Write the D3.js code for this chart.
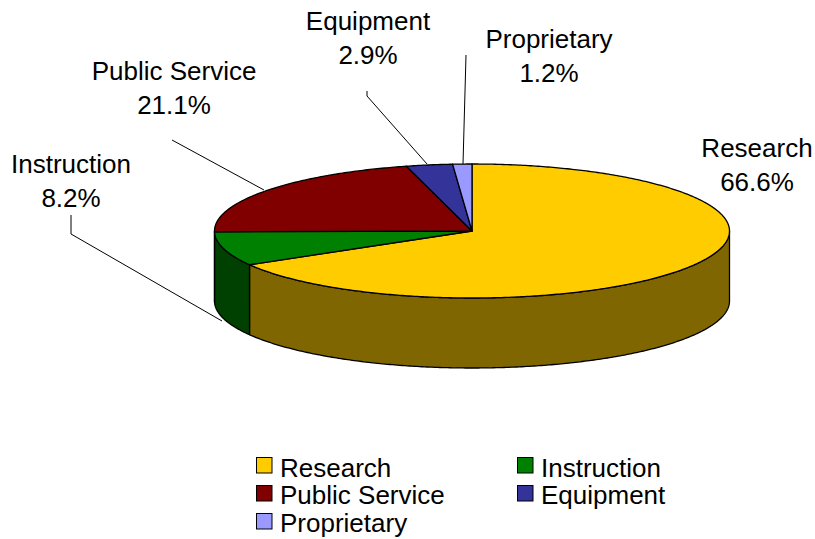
<!DOCTYPE html>
<html>
<head>
<meta charset="utf-8">
<script src="https://cdn.jsdelivr.net/npm/d3@7"></script>
<style>
html,body{margin:0;padding:0;background:#fff}
svg{display:block}
text{font-family:"Liberation Sans",Arial,sans-serif;font-size:26px;fill:#000}
</style>
</head>
<body>
<svg id="c" width="815" height="539"></svg>
<script>
const categories = ["Research","Instruction","Public Service","Equipment","Proprietary"];
const shares = [66.6,8.2,21.1,2.9,1.2];
const topColors = ["#FFCC00","#008000","#800000","#333399","#9999FF"];
const sideColors = ["#806600","#004000","#400000","#1A1A4D","#4D4D80"];

const svg = d3.select("#c");
const cx=472, cy=231, rx=257.5, ry=67, depth=70;
const px = d3.scaleLinear().domain([-1,1]).range([cx-rx,cx+rx]);
const py = d3.scaleLinear().domain([-1,1]).range([cy+ry,cy-ry]);
const pie = d3.pie().sort(null).value(d=>d)(shares);
const line = d3.line().x(d=>d[0]).y(d=>d[1]);
const pt = (a,dy=0)=>[px(Math.sin(a)),py(Math.cos(a))+dy];
const arcPts = (a0,a1,dy=0)=>{
  const n=Math.max(2,Math.ceil(Math.abs(a1-a0)/0.01));
  return d3.range(n+1).map(i=>pt(a0+(a1-a0)*i/n,dy));
};

// leader lines
const leaders = [
  [[71,215],[71,234],[222,321]],
  [[172,140],[264,190]],
  [[367,91],[367,96],[427,164]],
  [[466,55],[463,164]]
];
svg.append("g").selectAll("path").data(leaders).join("path")
  .attr("d",d=>line(d)).attr("fill","none").attr("stroke","#000").attr("stroke-width",1);

// side walls (front half only: angle PI/2 .. 3PI/2)
const front0=Math.PI/2, front1=3*Math.PI/2;
svg.append("g").selectAll("path")
  .data(pie.filter(d=>d.endAngle>front0 && d.startAngle<front1))
  .join("path")
  .attr("d",d=>{
    const a0=Math.max(d.startAngle,front0), a1=Math.min(d.endAngle,front1);
    return line([...arcPts(a0,a1),...arcPts(a1,a0,depth)])+"Z";
  })
  .attr("fill",d=>sideColors[d.index])
  .attr("stroke","#000").attr("stroke-width",1.3).attr("stroke-linejoin","round");

// top slices
svg.append("g").selectAll("path").data(pie).join("path")
  .attr("d",d=>line([[px(0),py(0)],...arcPts(d.startAngle,d.endAngle)])+"Z")
  .attr("fill",d=>topColors[d.index])
  .attr("stroke","#000").attr("stroke-width",1.3).attr("stroke-linejoin","round");

// data labels
const labelPos = [[757,157],[71,173],[174,80],[368,30],[549,48]];
const gap = 34;
const labels = svg.append("g").selectAll("g").data(categories).join("g")
  .attr("transform",(d,i)=>`translate(${labelPos[i][0]},${labelPos[i][1]})`)
  .attr("text-anchor","middle");
labels.append("text").text(d=>d);
labels.append("text").attr("y",gap).text((d,i)=>shares[i].toFixed(1)+"%");

// legend
const legendPos = [[256,457],[517,457],[256,485],[517,485],[256,513]];
const legendBaseline = [20,20,19,19,19];
const leg = svg.append("g").selectAll("g").data(categories).join("g")
  .attr("transform",(d,i)=>`translate(${legendPos[i][0]},${legendPos[i][1]})`);
leg.append("rect").attr("x",0.5).attr("y",0.5).attr("width",15.5).attr("height",15.5)
  .attr("fill",(d,i)=>topColors[i]).attr("stroke","#000").attr("stroke-width",1);
leg.append("text").attr("x",24).attr("y",(d,i)=>legendBaseline[i]).text(d=>d);
</script>
</body>
</html>
